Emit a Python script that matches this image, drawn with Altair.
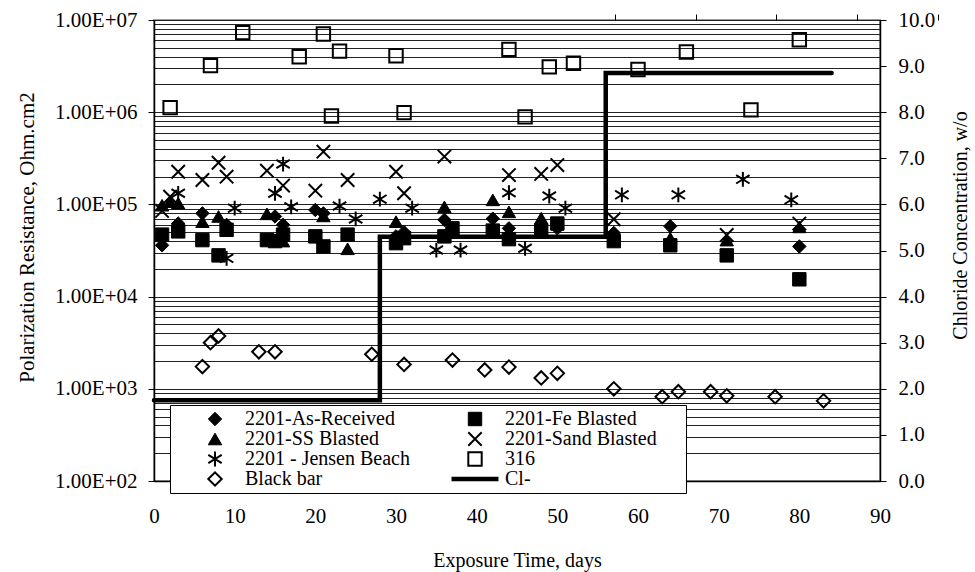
import altair as alt
import pandas as pd

# ---------------- data ----------------
# legend order (column by column): left column then right column
SERIES = ["2201-As-Received", "2201-SS Blasted", "2201 - Jensen Beach", "Black bar",
          "2201-Fe Blasted", "2201-Sand Blasted", "316", "Cl-"]

ar_days = [1, 3, 6, 9, 15, 16, 20, 21, 30, 31, 36, 37, 42, 44, 48, 50, 57, 64, 80]
ar_vals = [3.6e4, 6.2e4, 8.0e4, 6.0e4, 7.4e4, 6.0e4, 8.7e4, 8.0e4, 4.5e4, 5.0e4, 6.8e4,
           5.0e4, 7.0e4, 5.5e4, 5.5e4, 5.5e4, 4.9e4, 5.8e4, 3.5e4]

fe_days = [1, 3, 6, 8, 9, 14, 15, 16, 20, 21, 24, 30, 31, 36, 37, 42, 44, 48, 50, 57, 64, 71, 80]
fe_vals = [4.7e4, 5.1e4, 4.1e4, 2.8e4, 5.3e4, 4.1e4, 4.0e4, 4.7e4, 4.5e4, 3.5e4, 4.7e4, 3.8e4,
           4.3e4, 4.5e4, 5.5e4, 5.2e4, 4.2e4, 5.2e4, 6.2e4, 4.0e4, 3.6e4, 2.8e4, 1.54e4]

ss_days = [1, 2, 3, 6, 8, 14, 16, 21, 24, 30, 36, 42, 44, 48, 57, 64, 71, 80]
ss_vals = [9.8e4, 1.07e5, 1.03e5, 6.5e4, 7.4e4, 7.9e4, 4.0e4, 7.5e4, 3.3e4, 6.5e4, 9.4e4,
           1.12e5, 8.3e4, 7.1e4, 4.3e4, 4.3e4, 4.1e4, 5.7e4]

sand_days = [1, 2, 3, 6, 8, 9, 14, 16, 20, 21, 24, 30, 31, 36, 44, 48, 50, 57, 71, 80]
sand_vals = [8.5e4, 1.21e5, 2.26e5, 1.84e5, 2.83e5, 2.0e5, 2.32e5, 1.6e5, 1.41e5, 3.73e5,
             1.84e5, 2.26e5, 1.32e5, 3.3e5, 2.08e5, 2.14e5, 2.67e5, 6.9e4, 4.66e4, 6.2e4]

jb_days = [3, 9, 10, 15, 16, 17, 23, 25, 28, 32, 35, 38, 44, 46, 49, 51, 58, 65, 73, 79]
jb_vals = [1.32e5, 2.6e4, 9.1e4, 1.32e5, 2.74e5, 9.4e4, 9.6e4, 6.95e4, 1.14e5, 9.1e4, 3.2e4,
           3.2e4, 1.34e5, 3.34e4, 1.23e5, 9.1e4, 1.27e5, 1.27e5, 1.87e5, 1.12e5]

s316_days = [2, 7, 11, 18, 21, 22, 23, 30, 31, 44, 46, 49, 52, 60, 66, 74, 80]
s316_vals = [1.12e6, 3.2e6, 7.3e6, 4.0e6, 7.05e6, 9.1e5, 4.6e6, 4.1e6, 9.9e5, 4.8e6, 8.9e5,
             3.1e6, 3.4e6, 2.9e6, 4.5e6, 1.06e6, 6.1e6]

bb_days = [6, 7, 8, 13, 15, 27, 31, 37, 41, 44, 48, 50, 57, 63, 65, 69, 71, 77, 83]
bb_vals = [1.74e3, 3.16e3, 3.74e3, 2.52e3, 2.52e3, 2.37e3, 1.84e3, 2.05e3, 1.6e3, 1.72e3,
           1.31e3, 1.47e3, 1.0e3, 8.2e2, 9.3e2, 9.3e2, 8.4e2, 8.2e2, 7.4e2]

cl_days = [0, 28, 56, 84]
cl_vals = [1.75, 5.3, 8.85, 8.85]

x_ticks = [0, 10, 20, 30, 40, 50, 60, 70, 80, 90]
y_ticks = [m * 10 ** e for e in range(2, 7) for m in range(1, 10)] + [10 ** 7]
cl_ticks = list(range(0, 11))

# ---------------- styles ----------------
X_PATH = "M-1,-1L1,1M-1,1L1,-1"
STAR_PATH = "M0,-1.1L0,1.1M-1,-0.62L1,0.62M-1,0.62L1,-0.62"
LINE_PATH = "M-3.5,0L3.5,0"
style = {
    "2201-As-Received": ("diamond", "black", 1),
    "2201-SS Blasted": ("triangle-up", "black", 1),
    "2201 - Jensen Beach": (STAR_PATH, "transparent", 2),
    "Black bar": ("diamond", "transparent", 2),
    "2201-Fe Blasted": ("square", "black", 1),
    "2201-Sand Blasted": (X_PATH, "transparent", 2),
    "316": ("square", "transparent", 2),
    "Cl-": (LINE_PATH, "transparent", 4.5),
}
shapes = [style[s][0] for s in SERIES]
fills = [style[s][1] for s in SERIES]

groups = [("2201-As-Received", ar_days, ar_vals), ("2201-Fe Blasted", fe_days, fe_vals),
          ("2201-SS Blasted", ss_days, ss_vals), ("2201-Sand Blasted", sand_days, sand_vals),
          ("2201 - Jensen Beach", jb_days, jb_vals), ("316", s316_days, s316_vals),
          ("Black bar", bb_days, bb_vals)]
rows = []
for name, ds, vs in groups:
    for d, v in zip(ds, vs):
        rows.append({"series": name, "day": d, "value": v, "sw": style[name][2]})
df = pd.DataFrame(rows)
cl_df = pd.DataFrame({"day": cl_days, "cl": cl_vals})

W, H = 726, 461
FONT = "Liberation Serif"
MAJOR = "abs(log(datum.value)/LN10 - round(log(datum.value)/LN10)) < 0.001"

xscale = alt.Scale(domain=[0, 90], nice=False, zero=False)

PAD = "\u00a0" * 5 + "\u200b"
legend = alt.Legend(
    title=None, orient="none", legendX=16, legendY=385, columns=2, gridAlign="each",
    direction="vertical", clipHeight=20,
    padding=4, rowPadding=0, columnPadding=24, symbolOffset=31, labelOffset=20,
    strokeColor="black", fillColor="white", labelFont=FONT, labelFontSize=20,
    labelColor="black", labelLimit=400, symbolSize=180, zindex=1,
    labelExpr="indexof(['2201-Fe Blasted', '2201-Sand Blasted', '316', 'Cl-'], datum.value) >= 0 ? datum.label + '" + PAD + "' : datum.label",
    symbolStrokeWidth={"expr": "datum.value == 'Cl-' ? 4.5 : ((datum.value == '2201-As-Received' || datum.value == '2201-Fe Blasted' || datum.value == '2201-SS Blasted') ? 1 : 2)"},
)

points = alt.Chart(df).mark_point(filled=True, opacity=1, size=180).encode(
    x=alt.X("day:Q", scale=xscale,
            axis=alt.Axis(values=x_ticks, title="Exposure Time, days", ticks=False, grid=False,
                          labelPadding=24, titlePadding=24, labelFlush=False, domainWidth=1.5)),
    y=alt.Y("value:Q", scale=alt.Scale(type="log", domain=[100, 1e7], nice=False),
            axis=alt.Axis(values=y_ticks,
                          labelExpr=MAJOR + " ? '1.00E+0' + round(log(datum.value)/LN10) : ''",
                          labelOverlap=False, labelFlush=False,
                          tickColor={"condition": {"test": MAJOR, "value": "black"}, "value": "transparent"},
                          tickSize=6, labelPadding=11, grid=True, gridColor="#222", gridWidth=1,
                          title="Polarization Resistance, Ohm.cm2", titleFontSize=21,
                          titleX=-127, titleY=217,
                          titleBaseline="middle", titleAlign="center", domainWidth=1.5)),
    shape=alt.Shape("series:N", scale=alt.Scale(domain=SERIES, range=shapes), legend=legend),
    fill=alt.Fill("series:N", scale=alt.Scale(domain=SERIES, range=fills)),
    stroke=alt.Stroke("series:N", scale=alt.Scale(domain=SERIES, range=["black"] * len(SERIES))),
    strokeWidth=alt.StrokeWidth("sw:Q", scale=None),
)

line = alt.Chart(cl_df).mark_line(color="black", strokeWidth=4.5, interpolate="step-after",
                                  strokeCap="round").encode(
    x=alt.X("day:Q", scale=xscale,
            axis=alt.Axis(orient="top", position=H, values=x_ticks, labels=False, domain=False,
                          grid=False, ticks=True, tickSize=6, title=None)),
    y=alt.Y("cl:Q", scale=alt.Scale(domain=[0, 10], nice=False),
            axis=alt.Axis(orient="right", values=cl_ticks, format=".1f", grid=False, tickSize=6,
                          labelPadding=12, labelFlush=False,
                          title="Chloride Concentration, w/o", titleAngle=270, titleX=80, titleY=205,
                          titleBaseline="middle", titleAlign="center", domainWidth=1.5)),
)

chart = alt.layer(points, line).resolve_scale(y="independent").resolve_axis(x="independent").properties(
    width=W, height=H,
    autosize=alt.AutoSizeParams(type="none"),
    padding={"left": 154, "top": 20, "right": 975 - 154 - W, "bottom": 572 - 20 - H},
    background="white",
).configure_axis(
    labelFont=FONT, titleFont=FONT, labelFontSize=21, titleFontSize=20,
    labelColor="black", titleColor="black", titleFontWeight="normal",
    domainColor="black", tickColor="black",
).configure_view(stroke="#9a9a9a", strokeWidth=2)

chart.save("out.html", embed_options={"renderer": "svg", "actions": False})
